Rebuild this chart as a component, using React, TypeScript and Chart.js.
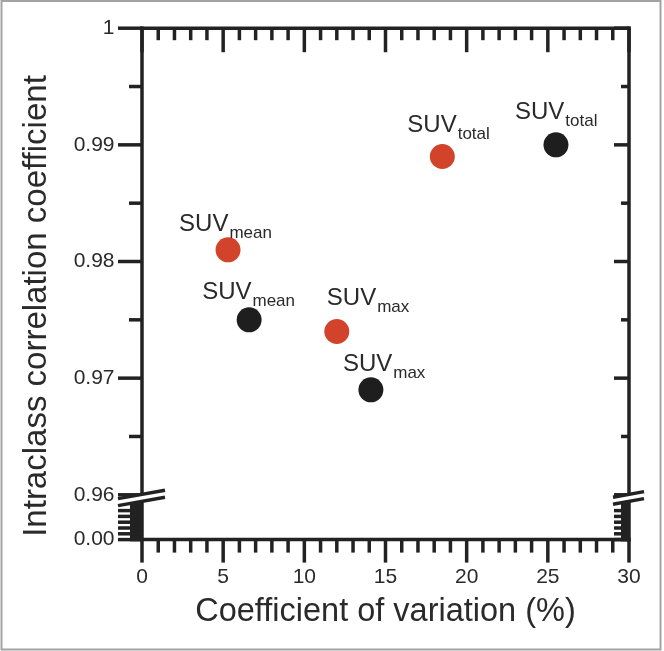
import React, { useEffect, useRef } from 'react';
import { Chart, registerables } from 'chart.js';

Chart.register(...registerables);

// ---------- data ----------
const xTitle = 'Coefficient of variation (%)';
const yTitle = 'Intraclass correlation coefficient';
const labelBase = 'SUV';
const subscripts = ['mean', 'max', 'total'];

const redCV = [5.3, 12.0, 18.5];
const redICC = [0.981, 0.974, 0.989];
const blackCV = [6.6, 14.1, 25.5];
const blackICC = [0.975, 0.969, 0.99];

const xMin = 0;
const xMax = 30;
const xStep = 1;
const xMajorEvery = 5;
const yMin = 0.96;
const yMax = 1;
const yStep = 0.005;
const lowerTickLabel = '0.00';
const lowerMin = 0;
const lowerMax = 1.545;
const lowerStep = 0.05;
const lowerMajor = [0, 0.2, 0.4, 0.6, 0.8, 1.0];
const lowerMinorTop = 1.2;

// ---------- style ----------
const FONT = '"Liberation Sans", Arial, Helvetica, sans-serif';
const RED = '#d2432b';
const BLACK = '#1e1e1e';
const INK = '#222222';
const TEXT = '#2a2a2a';
const LW = 3.5;
const redLabelOffsets = [[-49, -19], [-10, -26], [-35, -25]];
const blackLabelOffsets = [[-47, -21], [-28, -19], [-41, -26]];

const isMult = (v: number, step: number) => Math.abs(v / step - Math.round(v / step)) < 1e-6;

const zeroPad = (s: any) => {
  s.paddingTop = 0;
  s.paddingBottom = 0;
  s.paddingLeft = 0;
  s.paddingRight = 0;
};

const framePlugin = {
  id: 'frameDecor',
  beforeDraw(chart: any) {
    const ctx = chart.ctx;
    ctx.save();
    ctx.fillStyle = '#ffffff';
    ctx.fillRect(0, 0, chart.width, chart.height);
    ctx.strokeStyle = '#a3a3a3';
    ctx.lineWidth = 2;
    ctx.strokeRect(1.5, 1, 659, 648.5);
    ctx.restore();
  },
  afterDraw(chart: any) {
    const ctx = chart.ctx;
    const { left: L, right: R, top: T, bottom: B } = chart.chartArea;
    const xs = chart.scales.x;
    const ys = chart.scales.y;
    const y0 = chart.scales.y0;
    ctx.save();
    ctx.strokeStyle = INK;
    ctx.lineWidth = LW;
    const line = (x1: number, y1: number, x2: number, y2: number) => {
      ctx.beginPath();
      ctx.moveTo(x1, y1);
      ctx.lineTo(x2, y2);
      ctx.stroke();
    };
    ctx.lineCap = 'square';
    line(L, T, R, T);
    line(L, T, L, B);
    line(R, T, R, B);
    line(L, B, R, B);
    ctx.lineCap = 'butt';

    xs.ticks.forEach((t: any) => {
      const px = xs.getPixelForValue(t.value);
      const major = t.label !== '';
      line(px, B, px, B + (major ? 23 : 13));
      line(px, T, px, T + (major ? 24 : 12));
    });
    ys.ticks.forEach((t: any) => {
      const py = ys.getPixelForValue(t.value);
      const major = t.label !== '';
      line(L, py, L - (major ? 24 : 13), py);
      line(R, py, R - (major ? 15 : 8), py);
    });
    y0.ticks.forEach((t: any) => {
      if (t.value <= lowerMinorTop + 1e-9) {
        const py = y0.getPixelForValue(t.value);
        line(L, py, L - 12, py);
        line(R, py, R - 8, py);
      }
    });
    lowerMajor.forEach((v) => {
      const py = y0.getPixelForValue(v);
      line(L, py, L - 24, py);
      line(R, py, R - 15, py);
    });

    // axis break marks
    const yb = ys.getPixelForValue(yMin);
    const gap = 7;
    const slope = 0.18;
    const drawBreak = (xc: number, le: number, re: number) => {
      const x1 = xc - le;
      const x2 = xc + re;
      const yAt = (x: number, off: number) => yb - 0.5 + off - slope * (x - xc);
      ctx.fillStyle = '#ffffff';
      ctx.beginPath();
      ctx.moveTo(x1, yAt(x1, 0));
      ctx.lineTo(x2, yAt(x2, 0));
      ctx.lineTo(x2, yAt(x2, gap));
      ctx.lineTo(x1, yAt(x1, gap));
      ctx.closePath();
      ctx.fill();
      line(x1, yAt(x1, 0), x2, yAt(x2, 0));
      line(x1, yAt(x1, gap), x2, yAt(x2, gap));
    };
    drawBreak(L, 24, 23);
    drawBreak(R, 16, 15);

    // y title
    ctx.save();
    ctx.translate(45.5, 306);
    ctx.rotate(-Math.PI / 2);
    ctx.font = `33px ${FONT}`;
    ctx.textAlign = 'center';
    ctx.textBaseline = 'alphabetic';
    ctx.fillStyle = TEXT;
    ctx.fillText(yTitle, 0, 0);
    ctx.restore();

    // point labels
    const drawLabels = (dsIndex: number, offsets: number[][]) => {
      const meta = chart.getDatasetMeta(dsIndex);
      meta.data.forEach((el: any, j: number) => {
        const [dx, dy] = offsets[j];
        const x = el.x + dx;
        const y = el.y + dy;
        ctx.fillStyle = TEXT;
        ctx.textAlign = 'left';
        ctx.textBaseline = 'alphabetic';
        ctx.font = `24px ${FONT}`;
        ctx.fillText(labelBase, x, y);
        const w = ctx.measureText(labelBase).width;
        ctx.font = `17px ${FONT}`;
        ctx.fillText(subscripts[j], x + w + 1, y + 7);
      });
    };
    drawLabels(0, redLabelOffsets);
    drawLabels(1, blackLabelOffsets);
    ctx.restore();
  },
};

export default function App() {
  const ref = useRef<HTMLCanvasElement | null>(null);
  useEffect(() => {
    document.body.style.margin = '0';
    const canvas = ref.current;
    if (!canvas) return;
    const chart = new Chart(canvas, {
      type: 'scatter',
      data: {
        datasets: [
          {
            label: 'red',
            data: redCV.map((x, i) => ({ x, y: redICC[i] })),
            yAxisID: 'y',
            pointRadius: 12.5,
            pointHoverRadius: 12.5,
            pointBackgroundColor: RED,
            pointBorderWidth: 0,
            borderWidth: 0,
          },
          {
            label: 'black',
            data: blackCV.map((x, i) => ({ x, y: blackICC[i] })),
            yAxisID: 'y',
            pointRadius: 12.5,
            pointHoverRadius: 12.5,
            pointBackgroundColor: BLACK,
            pointBorderWidth: 0,
            borderWidth: 0,
          },
        ],
      },
      options: {
        animation: false,
        responsive: false,
        devicePixelRatio: 1,
        events: [],
        layout: { padding: { left: 0, right: 35, top: 28.2, bottom: 0 } },
        plugins: { legend: { display: false }, tooltip: { enabled: false } },
        scales: {
          x: {
            type: 'linear',
            position: 'bottom',
            min: xMin,
            max: xMax,
            grid: { display: false, drawTicks: false },
            border: { display: false },
            ticks: {
              stepSize: xStep,
              autoSkip: false,
              maxRotation: 0,
              padding: 25.5,
              color: TEXT,
              font: { family: FONT, size: 21 },
              callback: (v: any) => (isMult(Number(v), xMajorEvery) ? String(Math.round(Number(v))) : ''),
            },
            title: {
              display: true,
              text: xTitle,
              color: TEXT,
              font: { family: FONT, size: 32.5 },
              padding: { top: 0, bottom: 19 },
            },
            afterFit: (s: any) => {
              s.height = 111.4;
              zeroPad(s);
            },
          },
          y0: {
            type: 'linear',
            position: 'left',
            stack: 'left',
            stackWeight: 44.8,
            weight: 0,
            min: lowerMin,
            max: lowerMax,
            grid: { display: false, drawTicks: false },
            border: { display: false },
            ticks: {
              stepSize: lowerStep,
              autoSkip: false,
              padding: 27.5,
              color: TEXT,
              font: { family: FONT, size: 21 },
              callback: (v: any) => (Number(v) === lowerMin ? lowerTickLabel : ''),
            },
            afterFit: (s: any) => {
              s.width = 142;
              zeroPad(s);
            },
          },
          y: {
            type: 'linear',
            position: 'left',
            stack: 'left',
            stackWeight: 466.6,
            weight: 1,
            min: yMin,
            max: yMax,
            grid: { display: false, drawTicks: false },
            border: { display: false },
            ticks: {
              stepSize: yStep,
              autoSkip: false,
              padding: 27.5,
              color: TEXT,
              font: { family: FONT, size: 21 },
              callback: (v: any) => {
                const n = Number(v);
                if (!isMult(n, 0.01)) return '';
                return Math.abs(n - 1) < 1e-9 ? '1' : n.toFixed(2);
              },
            },
            afterFit: (s: any) => {
              s.width = 142;
              zeroPad(s);
            },
          },
        },
      },
      plugins: [framePlugin],
    } as any);
    return () => chart.destroy();
  }, []);
  return (
    <div style={{ position: 'absolute', left: 0, top: 0, width: 664, height: 651 }}>
      <canvas ref={ref} width={664} height={651} style={{ display: 'block', width: 664, height: 651 }} />
    </div>
  );
}
